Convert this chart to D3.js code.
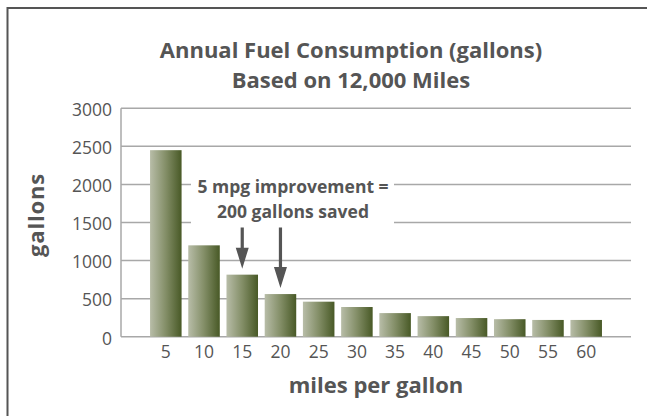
<!DOCTYPE html>
<html>
<head>
<meta charset="utf-8">
<script src="https://cdn.jsdelivr.net/npm/d3@7"></script>
<style>
  body { margin: 0; background: #fff; }
  text { font-family: "Open Sans", "Noto Sans", sans-serif; fill: #555; }
</style>
</head>
<body>
<div id="chart"></div>
<script>
// data
var mpg = ["5", "10", "15", "20", "25", "30", "35", "40", "45", "50", "55", "60"];
var gallons = [2450, 1200, 815, 560, 460, 390, 310, 270, 245, 230, 220, 220];
var yTicks = [0, 500, 1000, 1500, 2000, 2500, 3000];
var titleLines = ["Annual Fuel Consumption (gallons)", "Based on 12,000 Miles"];
var noteLines = ["5 mpg improvement =", "200 gallons saved"];
var arrowBars = ["15", "20"];

var W = 647, H = 416;
var margin = { top: 108.3, left: 121, right: 16, bottom: 79.3 };

var svg = d3.select("#chart").append("svg")
  .attr("width", W)
  .attr("height", H);

// frame
svg.append("rect")
  .attr("x", 7.5).attr("y", 8)
  .attr("width", W + 20).attr("height", H + 20)
  .attr("fill", "none")
  .attr("stroke", "#555")
  .attr("stroke-width", 2);

var x = d3.scaleBand()
  .domain(mpg)
  .range([margin.left, W - margin.right])
  .paddingInner(0.175)
  .paddingOuter(0.76);

var y = d3.scaleLinear()
  .domain([0, 3000])
  .range([H - margin.bottom, margin.top]);

// gradient for bars
var grad = svg.append("defs").append("linearGradient")
  .attr("id", "barGrad")
  .attr("x1", "0%").attr("x2", "100%")
  .attr("y1", "0%").attr("y2", "0%");
grad.append("stop").attr("offset", "0%").attr("stop-color", "#b8bda8");
grad.append("stop").attr("offset", "50%").attr("stop-color", "#838e67");
grad.append("stop").attr("offset", "100%").attr("stop-color", "#485926");

// gridlines
svg.append("g")
  .selectAll("line")
  .data(yTicks)
  .enter().append("line")
  .attr("x1", margin.left)
  .attr("x2", W - margin.right)
  .attr("y1", function (d) { return y(d); })
  .attr("y2", function (d) { return y(d); })
  .attr("stroke", "#a8a8a8")
  .attr("stroke-width", 1.5);

// left axis line
svg.append("line")
  .attr("x1", margin.left).attr("x2", margin.left)
  .attr("y1", y(3000)).attr("y2", y(0))
  .attr("stroke", "#a8a8a8")
  .attr("stroke-width", 1.5);

// y axis labels
var yAxis = svg.append("g")
  .attr("transform", "translate(" + margin.left + ",0)")
  .call(d3.axisLeft(y).tickValues(yTicks).tickFormat(d3.format("d"))
    .tickSize(0).tickPadding(9));
yAxis.select(".domain").remove();
yAxis.selectAll("text")
  .attr("dy", "0.42em")
  .style("font-size", "17.5px")
  .style("fill", "#555");

// x axis labels
var xAxis = svg.append("g")
  .attr("transform", "translate(0," + y(0) + ")")
  .call(d3.axisBottom(x).tickSize(0).tickPadding(9));
xAxis.select(".domain").remove();
xAxis.selectAll("text")
  .attr("dy", "0.71em")
  .style("font-size", "17.5px")
  .style("fill", "#555");

// bars
svg.append("g")
  .selectAll("rect")
  .data(gallons)
  .enter().append("rect")
  .attr("x", function (d, i) { return x(mpg[i]); })
  .attr("y", function (d) { return y(d); })
  .attr("width", x.bandwidth())
  .attr("height", function (d) { return y(0) - y(d); })
  .attr("fill", "url(#barGrad)");

// title
svg.append("text")
  .attr("x", 351).attr("y", 58)
  .attr("text-anchor", "middle")
  .style("font-size", "22px").style("font-weight", "bold")
  .selectAll("tspan")
  .data(titleLines)
  .enter().append("tspan")
  .attr("x", 351)
  .attr("dy", function (d, i) { return i ? 30 : 0; })
  .text(function (d) { return d; });

// axis titles
svg.append("text")
  .attr("x", 376).attr("y", 393)
  .attr("text-anchor", "middle")
  .style("font-size", "22px").style("font-weight", "bold")
  .text("miles per gallon");

svg.append("text")
  .attr("transform", "translate(44,215)rotate(-90)")
  .attr("text-anchor", "middle")
  .style("font-size", "22px").style("font-weight", "bold")
  .style("letter-spacing", "0.8px")
  .text("gallons");

// annotation box + text
svg.append("rect")
  .attr("x", 191).attr("y", 172)
  .attr("width", 203).attr("height", 53)
  .attr("fill", "#fff");

svg.append("text")
  .attr("text-anchor", "middle")
  .style("font-size", "17.5px").style("font-weight", "bold")
  .selectAll("tspan")
  .data(noteLines)
  .enter().append("tspan")
  .attr("x", 293)
  .attr("y", function (d, i) { return 192.5 + i * 25; })
  .text(function (d) { return d; });

// arrows pointing at the 15 and 20 mpg bars
var headLen = 21, headW = 6.5;
svg.append("g")
  .selectAll("path")
  .data(arrowBars)
  .enter().append("path")
  .attr("d", function (k) {
    var cx = x(k) + x.bandwidth() / 2;
    var tip = y(gallons[mpg.indexOf(k)]) - 6;
    var y0 = y(1500) + 5;
    return "M" + (cx - 1.6) + "," + y0 +
      "L" + (cx + 1.6) + "," + y0 +
      "L" + (cx + 1.6) + "," + (tip - headLen) +
      "L" + (cx + headW) + "," + (tip - headLen) +
      "L" + cx + "," + tip +
      "L" + (cx - headW) + "," + (tip - headLen) +
      "L" + (cx - 1.6) + "," + (tip - headLen) + "Z";
  })
  .attr("fill", "#555");
</script>
</body>
</html>
